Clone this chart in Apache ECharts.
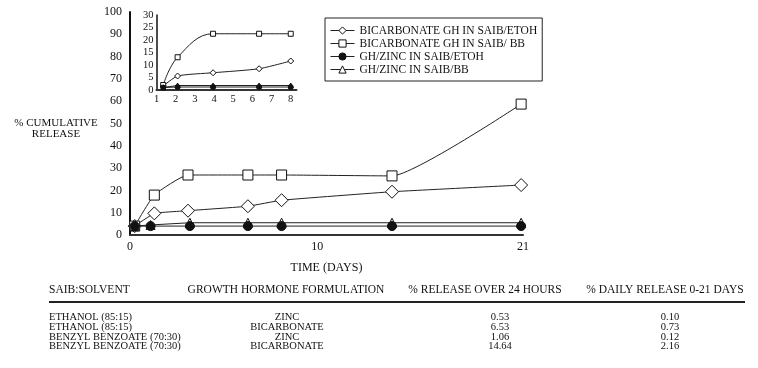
<!DOCTYPE html>
<html>
<head>
<meta charset="utf-8">
<script src="https://cdn.jsdelivr.net/npm/echarts@6/dist/echarts.min.js"></script>
<style>
  html, body { margin: 0; padding: 0; background: #fff; }
  #chart { width: 758px; height: 368px; }
</style>
</head>
<body>
<div id="chart"></div>
<script>
// series names (legend)
const seriesNames = [
  'BICARBONATE GH IN SAIB/ETOH',
  'BICARBONATE GH IN SAIB/ BB',
  'GH/ZINC IN SAIB/ETOH',
  'GH/ZINC IN SAIB/BB'
];

// main plot, time in days
const bicarbDays = [0.25, 1.3, 3.1, 6.3, 8.1, 14, 20.9];
const zincDays = [0.25, 1.1, 3.2, 6.3, 8.1, 14, 20.9];
const bicarbEtoh = [4, 9.7, 10.9, 12.9, 15.6, 19.4, 22.4];
const bicarbBb = [4, 17.9, 26.9, 26.9, 26.9, 26.5, 58.7];
const zincEtoh = [4, 4, 4, 4, 4, 4, 4];
const zincBb = [4, 4.5, 5.5, 5.5, 5.5, 5.5, 5.5];

// inset plot
const insetX = [1.35, 2.1, 3.95, 6.35, 8];
const insetBicarbEtoh = [1.6, 5.6, 6.9, 8.5, 11.6];
const insetBicarbBb = [2, 13.1, 22.5, 22.5, 22.5];
const insetZincEtoh = [1, 1.2, 1.2, 1.2, 1.2];
const insetZincBb = [1, 1.8, 1.8, 1.8, 1.8];
const insetXTicks = [1, 2, 3, 4, 5, 6, 7, 8];

// table under the chart
const tableHeader = ['SAIB:SOLVENT', 'GROWTH HORMONE FORMULATION', '% RELEASE OVER 24 HOURS', '% DAILY RELEASE 0-21 DAYS'];
const tableRows = [
  ['ETHANOL (85:15)', 'ZINC', '0.53', '0.10'],
  ['ETHANOL (85:15)', 'BICARBONATE', '6.53', '0.73'],
  ['BENZYL BENZOATE (70:30)', 'ZINC', '1.06', '0.12'],
  ['BENZYL BENZOATE (70:30)', 'BICARBONATE', '14.64', '2.16']
];

const FONT = '"Liberation Serif", "DejaVu Serif", serif';
const INK = '#111';

const pairs = (xs, ys) => xs.map((x, i) => [x, ys[i]]);

const hollow = { color: '#fff', borderColor: INK, borderWidth: 1 };
const filled = { color: INK, borderColor: INK, borderWidth: 1 };
const line = { color: '#222', width: 1 };

function makeSeries(idx, data, symbol, size, style, smooth) {
  return {
    name: seriesNames[idx - (idx > 3 ? 4 : 0)],
    type: 'line',
    xAxisIndex: idx > 3 ? 1 : 0,
    yAxisIndex: idx > 3 ? 1 : 0,
    data: data,
    symbol: symbol,
    symbolSize: size,
    smooth: smooth,
    itemStyle: style,
    lineStyle: line,
    emphasis: { disabled: true }
  };
}

const chart = echarts.init(document.getElementById('chart'));

// table texts
const colX = [49, 287, 500, 670];
const colAlign = ['left', 'center', 'center', 'center'];
const rowY = [317, 327, 337, 346.5];
const graphics = [];
tableHeader.forEach((t, i) => {
  const hx = [49, 286, 485, 665][i];
  graphics.push({
    type: 'text',
    style: { text: t, x: hx, y: 290, align: colAlign[i], verticalAlign: 'middle', font: '11.5px ' + FONT, fill: INK }
  });
});
tableRows.forEach((row, r) => {
  row.forEach((t, i) => {
    graphics.push({
      type: 'text',
      style: { text: t, x: colX[i], y: rowY[r], align: colAlign[i], verticalAlign: 'middle', font: '10.5px ' + FONT, fill: INK }
    });
  });
});
graphics.push({
  type: 'line',
  shape: { x1: 49, y1: 302, x2: 745, y2: 302 },
  style: { stroke: '#222', lineWidth: 2 }
});
graphics.push({
  type: 'text',
  style: { text: '% CUMULATIVE\nRELEASE', x: 56, y: 128.5, align: 'center', verticalAlign: 'middle', font: '11px ' + FONT, lineHeight: 11, fill: INK }
});

const option = {
  animation: false,
  backgroundColor: '#fff',
  textStyle: { fontFamily: FONT, color: INK },
  legend: {
    data: seriesNames,
    orient: 'vertical',
    left: 325,
    top: 18,
    padding: [6, 5, 5, 5],
    itemWidth: 24,
    itemHeight: 9,
    itemGap: 0,
    borderColor: '#222',
    borderWidth: 1,
    selectedMode: false,
    itemStyle: { borderWidth: 1 },
    lineStyle: { width: 1 },
    textStyle: { fontFamily: FONT, fontSize: 11.5, color: INK, lineHeight: 13 }
  },
  grid: [
    { left: 130, right: 235, top: 12, bottom: 133 },
    { left: 156.5, width: 140, top: 15, height: 75 }
  ],
  xAxis: [
    {
      type: 'value', gridIndex: 0, min: 0, max: 21,
      name: 'TIME (DAYS)', nameLocation: 'middle', nameGap: 27,
      nameTextStyle: { fontFamily: FONT, fontSize: 12, color: INK },
      axisLine: { lineStyle: { color: '#333', width: 2 } },
      axisTick: { show: false },
      splitLine: { show: false },
      axisLabel: { customValues: [0, 10, 21], margin: 6, fontFamily: FONT, fontSize: 12, color: INK }
    },
    {
      type: 'value', gridIndex: 1, min: 1, max: 8.3,
      axisLine: { lineStyle: { color: '#333', width: 2 } },
      axisTick: { show: false },
      splitLine: { show: false },
      axisLabel: { customValues: insetXTicks, margin: 4, fontFamily: FONT, fontSize: 10.5, color: INK }
    }
  ],
  yAxis: [
    {
      type: 'value', gridIndex: 0, min: 0, max: 100, interval: 10,
      axisLine: { show: true, lineStyle: { color: INK, width: 2 } },
      axisTick: { show: false },
      splitLine: { show: false },
      axisLabel: { margin: 8, fontFamily: FONT, fontSize: 12, color: INK }
    },
    {
      type: 'value', gridIndex: 1, min: 0, max: 30, interval: 5,
      axisLine: { show: true, lineStyle: { color: INK, width: 1.5 } },
      axisTick: { show: false },
      splitLine: { show: false },
      axisLabel: { margin: 3, fontFamily: FONT, fontSize: 10.5, color: INK }
    }
  ],
  series: [
    makeSeries(0, pairs(bicarbDays, bicarbEtoh), 'diamond', 13, hollow, 0.1),
    makeSeries(1, pairs(bicarbDays, bicarbBb), 'rect', 10, hollow, 0.15),
    makeSeries(3, pairs(zincDays, zincBb), 'triangle', 9, hollow, false),
    makeSeries(2, pairs(zincDays, zincEtoh), 'circle', 9, filled, false),
    makeSeries(4, pairs(insetX, insetBicarbEtoh), 'diamond', 6, hollow, 0.2),
    makeSeries(5, pairs(insetX, insetBicarbBb), 'rect', 5, hollow, 0.4),
    makeSeries(7, pairs(insetX, insetZincBb), 'triangle', 5, hollow, false),
    makeSeries(6, pairs(insetX, insetZincEtoh), 'circle', 5, filled, false)
  ],
  graphic: graphics
};

chart.setOption(option);
</script>
</body>
</html>
